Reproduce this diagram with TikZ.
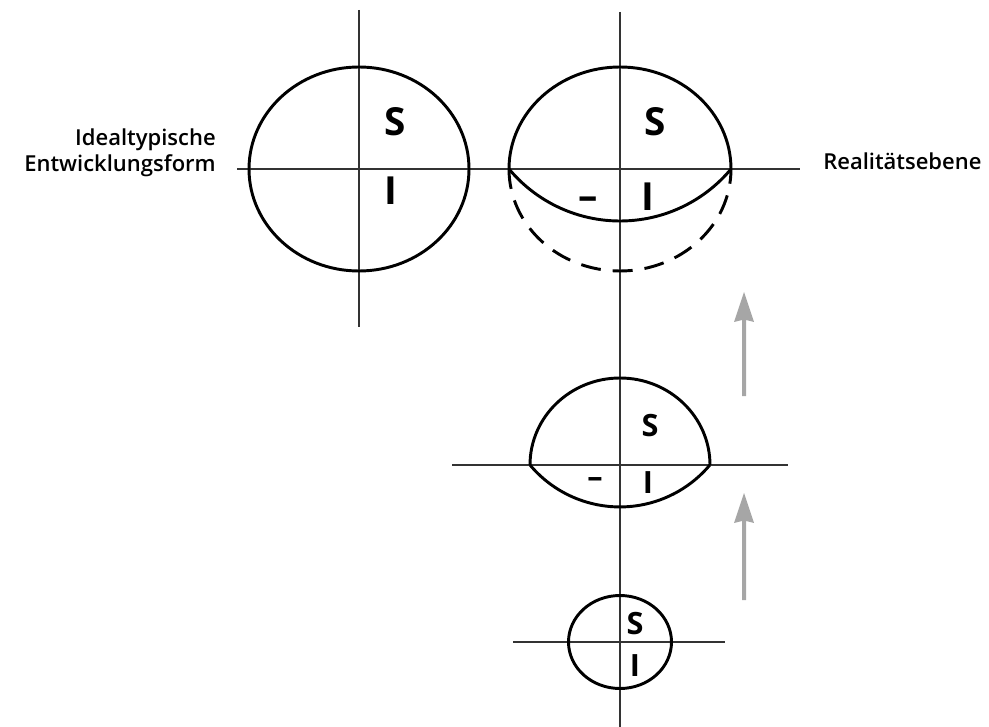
\documentclass[tikz,border=0pt]{standalone}
\usepackage{fontspec}
\setmainfont{Open Sans}
\IfFontExistsTF{Open Sans SemiBold}
  {\newfontfamily\lblfont{Open Sans SemiBold}}
  {\IfFontExistsTF{Open Sans Semibold}
     {\newfontfamily\lblfont{Open Sans Semibold}}
     {\newfontfamily\lblfont[FakeBold=3]{Open Sans}}}
\newfontfamily\letfont{Open Sans Bold}
\begin{document}
\begin{tikzpicture}[x=0.75pt,y=-0.75pt,
  axis/.style={line width=1.1pt,draw=black!80},
  outline/.style={line width=2.2pt,draw=black},
  dashline/.style={line width=2.2pt,draw=black,dash pattern=on 15pt off 9pt},
  bigL/.style={font=\letfont\fontsize{29}{29}\selectfont,inner sep=0pt},
  midL/.style={font=\letfont\fontsize{23}{23}\selectfont,inner sep=0pt},
  lbl/.style={font=\lblfont\fontsize{16.5}{19.5}\selectfont,inner sep=0pt},
  grayarrow/.style={fill=black!35,draw=none}]
\useasboundingbox (0,0) rectangle (989,727);
% axes
\draw[axis] (359,10) -- (359,327);
\draw[axis] (620,12) -- (620,727);
\draw[axis] (237,169) -- (800,169);
\draw[axis] (452,465) -- (788,465);
\draw[axis] (513,642) -- (725,642);
% circle 1
\draw[outline] (359,169) ellipse [x radius=110, y radius=102];
% circle 2
\draw[outline] (509,169) arc [start angle=180, end angle=360, x radius=111, y radius=102];
\draw[outline] (509,169) arc [start angle=140.2, end angle=39.8, radius=144.5];
\draw[dashline] (509,169) arc [start angle=180, end angle=0, x radius=111, y radius=102];
% middle shape
\draw[outline] (530,465) arc [start angle=180, end angle=360, x radius=90, y radius=87];
\draw[outline] (530,465) arc [start angle=140, end angle=40, radius=117.4];
% small circle
\draw[outline] (620,642) ellipse [x radius=51.5, y radius=46.5];
% letters
\node[bigL] (s1) at (395,122) {S};
\node[bigL] (i1) at (391,191) {I};
\node[bigL] (s2) at (655,122) {S};
\node[bigL] (i2) at (648,197) {I};
\node[bigL] (m2) at (588,203) {–};
\node[midL] (s3) at (650,426) {S};
\node[midL] (i3) at (648,483) {I};
\node[midL] (m3) at (595,483) {–};
\node[midL] (s4) at (635,624) {S};
\node[midL] (i4) at (635,666) {I};
% labels
\node[lbl,anchor=base east] (l1) at (216,146) {Idealtypische};
\node[lbl,anchor=base east] (l2) at (216,172) {Entwicklungsform};
\node[lbl,anchor=base west] (r1) at (823,170) {Realitätsebene};
% arrows
\fill[grayarrow] (742,396) -- (742,320) -- (734,322) -- (744,292) -- (754,322) -- (746,320) -- (746,396) -- cycle;
\fill[grayarrow] (742,600) -- (742,521) -- (734,523) -- (744,493) -- (754,523) -- (746,521) -- (746,600) -- cycle;
\end{tikzpicture}
\end{document}
